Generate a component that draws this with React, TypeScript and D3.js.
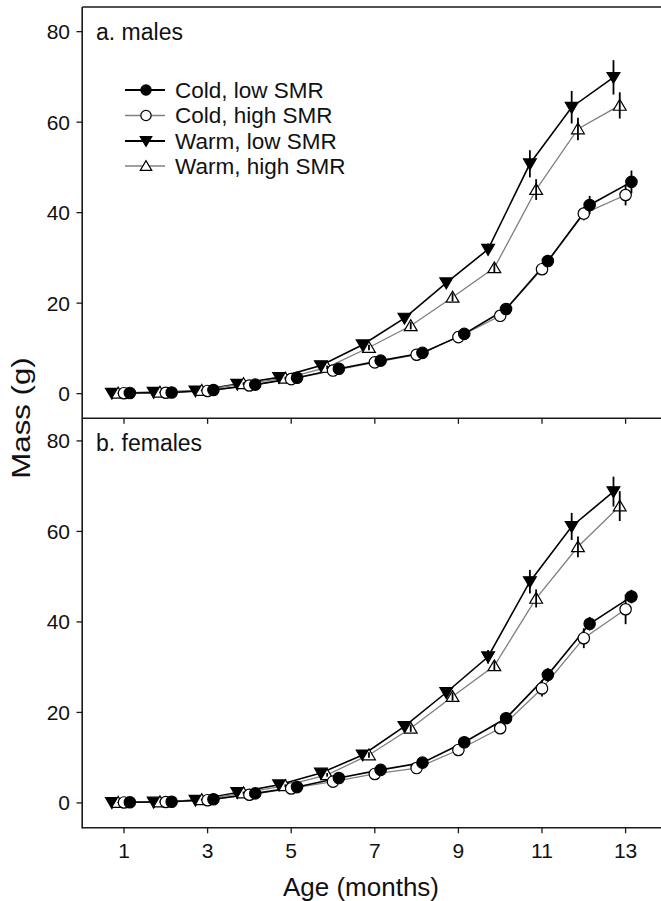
import React from "react";
import * as d3 from "d3";

const months = [1, 2, 3, 4, 5, 6, 7, 8, 9, 10, 11, 12, 13];
const xTicks = [1, 3, 5, 7, 9, 11, 13];
const yTicks = [0, 20, 40, 60, 80];

const seriesNames = ["Cold, low SMR", "Cold, high SMR", "Warm, low SMR", "Warm, high SMR"];

// males
const maleColdLow = [0.15, 0.25, 0.8, 2.0, 3.5, 5.5, 7.3, 9.0, 13.2, 18.7, 29.3, 41.7, 46.8];
const maleColdHigh = [0.1, 0.2, 0.6, 1.8, 3.2, 5.1, 6.9, 8.6, 12.5, 17.2, 27.5, 39.8, 43.9];
const maleWarmLow = [0.1, 0.3, 0.6, 2.1, 3.6, 6.2, 10.8, 16.7, 24.5, 31.9, 50.8, 63.3, 69.9];
const maleWarmHigh = [0.1, 0.3, 0.7, 2.2, 3.4, 5.8, 10.2, 15.0, 21.3, 27.8, 45.1, 58.5, 63.7];
const maleColdLowErr = [0.1, 0.1, 0.1, 0.2, 0.3, 0.3, 0.4, 0.5, 0.6, 0.8, 1.0, 2.0, 2.5];
const maleColdHighErr = [0.1, 0.1, 0.1, 0.2, 0.3, 0.3, 0.4, 0.5, 0.6, 0.8, 1.2, 1.5, 2.3];
const maleWarmLowErr = [0.1, 0.1, 0.2, 0.3, 0.4, 0.5, 0.7, 0.9, 1.0, 1.3, 3.0, 3.6, 3.8];
const maleWarmHighErr = [0.1, 0.1, 0.2, 0.3, 0.3, 0.4, 0.6, 0.8, 0.9, 1.0, 2.3, 2.5, 2.9];

// females
const femaleColdLow = [0.15, 0.25, 0.8, 2.1, 3.5, 5.5, 7.3, 8.9, 13.4, 18.7, 28.3, 39.6, 45.6];
const femaleColdHigh = [0.1, 0.2, 0.6, 1.8, 3.2, 4.7, 6.4, 7.7, 11.7, 16.5, 25.3, 36.4, 42.8];
const femaleWarmLow = [0.1, 0.2, 0.6, 2.3, 4.0, 6.6, 10.6, 16.9, 24.4, 32.3, 48.9, 61.1, 68.8];
const femaleWarmHigh = [0.1, 0.2, 0.7, 2.2, 3.8, 6.2, 10.6, 16.5, 23.5, 30.3, 45.2, 56.6, 65.6];
const femaleColdLowErr = [0.1, 0.1, 0.1, 0.2, 0.3, 0.3, 0.4, 0.5, 0.6, 0.8, 1.5, 1.5, 1.5];
const femaleColdHighErr = [0.1, 0.1, 0.1, 0.2, 0.3, 0.3, 0.4, 0.5, 0.6, 1.0, 1.8, 2.2, 3.3];
const femaleWarmLowErr = [0.1, 0.1, 0.2, 0.3, 0.4, 0.5, 0.7, 0.9, 1.0, 1.5, 2.6, 3.0, 3.3];
const femaleWarmHighErr = [0.1, 0.1, 0.2, 0.3, 0.3, 0.4, 0.6, 0.8, 0.9, 1.0, 2.0, 2.3, 3.3];

// age offsets (months) used to separate groups
const ageOffsets = [0.14, 0, -0.29, -0.14];

const FONT = "'Liberation Sans', Arial, Helvetica, sans-serif";
const GRAY = "#7f7f7f";
const AX = "#1a1a1a";

type Style = { line: string; lw: number; marker: "circle" | "down" | "up"; fill: string; barsOnTop: boolean };
const styles: Style[] = [
  { line: "#000", lw: 1.6, marker: "circle", fill: "#000", barsOnTop: false },
  { line: GRAY, lw: 1.3, marker: "circle", fill: "#fff", barsOnTop: false },
  { line: "#000", lw: 1.6, marker: "down", fill: "#000", barsOnTop: true },
  { line: GRAY, lw: 1.3, marker: "up", fill: "#fff", barsOnTop: true },
];

function Marker({ kind, x, y, fill, s = 1 }: { kind: string; x: number; y: number; fill: string; s?: number }) {
  if (kind === "circle") {
    return <circle cx={x} cy={y} r={5.7 * s} fill={fill} stroke="#000" strokeWidth={1.2} />;
  }
  const w = 6.4 * s;
  const h = 5.7 * s;
  const d =
    kind === "down"
      ? `M${x - w},${y - h * 0.85}L${x + w},${y - h * 0.85}L${x},${y + h * 1.05}Z`
      : `M${x - w},${y + h * 0.85}L${x + w},${y + h * 0.85}L${x},${y - h * 1.05}Z`;
  return <path d={d} fill={fill} stroke="#000" strokeWidth={1.2} strokeLinejoin="miter" />;
}

const x = d3.scaleLinear().domain([0, 1]).range([82.2, 124.0]);

function Panel({
  values,
  errs,
  top,
  bottom,
  yDomain,
  label,
  showXLabels,
}: {
  values: number[][];
  errs: number[][];
  top: number;
  bottom: number;
  yDomain: [number, number];
  label: string;
  showXLabels: boolean;
}) {
  const y = d3.scaleLinear().domain(yDomain).range([bottom, top]);
  const order = [2, 3, 1, 0];
  return (
    <g>
      {order.map((si) => {
        const line = d3
          .line<number>()
          .x((_, i) => x(months[i] + ageOffsets[si]))
          .y((v) => y(v));
        return (
          <path key={"l" + si} d={line(values[si]) || ""} fill="none" stroke={styles[si].line} strokeWidth={styles[si].lw} />
        );
      })}
      {order.map((si) => {
        const bars = values[si].map((v, i) => (
          <line
            key={"e" + i}
            x1={x(months[i] + ageOffsets[si])}
            x2={x(months[i] + ageOffsets[si])}
            y1={y(v - errs[si][i])}
            y2={y(v + errs[si][i])}
            stroke="#000"
            strokeWidth={1.8}
          />
        ));
        const marks = values[si].map((v, i) => (
          <Marker key={i} kind={styles[si].marker} x={x(months[i] + ageOffsets[si])} y={y(v)} fill={styles[si].fill} />
        ));
        return (
          <g key={"m" + si}>
            {styles[si].barsOnTop ? marks : bars}
            {styles[si].barsOnTop ? bars : marks}
          </g>
        );
      })}
      {yTicks.map((t) => (
        <g key={"yt" + t}>
          <line x1={76.5} x2={82.2} y1={y(t)} y2={y(t)} stroke={AX} strokeWidth={1.3} />
          <text x={70} y={y(t)} textAnchor="end" dominantBaseline="central" fontSize={21} fontFamily={FONT} fill="#111">
            {t}
          </text>
        </g>
      ))}
      <line x1={82.2} x2={661} y1={bottom} y2={bottom} stroke={AX} strokeWidth={1.6} />
      {xTicks.map((t) => (
        <g key={"xt" + t}>
          <line x1={x(t)} x2={x(t)} y1={bottom} y2={bottom + 5.5} stroke={AX} strokeWidth={1.3} />
          {showXLabels && (
            <text x={x(t)} y={bottom + 23} textAnchor="middle" dominantBaseline="central" fontSize={21} fontFamily={FONT} fill="#111">
              {t}
            </text>
          )}
        </g>
      ))}
      <text x={96} y={top + 32.5} fontSize={23} fontFamily={FONT} fill="#111">
        {label}
      </text>
    </g>
  );
}

export default function App() {
  const legendRows = [90, 115.5, 141, 166];
  return (
    <svg width={661} height={901} style={{ position: "absolute", left: 0, top: 0, background: "#fff" }}>
      <rect width={661} height={901} fill="#fff" />
      <Panel
        values={[maleColdLow, maleColdHigh, maleWarmLow, maleWarmHigh]}
        errs={[maleColdLowErr, maleColdHighErr, maleWarmLowErr, maleWarmHighErr]}
        top={7}
        bottom={418.3}
        yDomain={[-5.45, 85.45]}
        label="a. males"
        showXLabels={false}
      />
      <Panel
        values={[femaleColdLow, femaleColdHigh, femaleWarmLow, femaleWarmHigh]}
        errs={[femaleColdLowErr, femaleColdHighErr, femaleWarmLowErr, femaleWarmHighErr]}
        top={418.3}
        bottom={827.8}
        yDomain={[-5.5, 85.0]}
        label="b. females"
        showXLabels={true}
      />
      <line x1={82.2} x2={661} y1={7} y2={7} stroke={AX} strokeWidth={1.6} />
      <line x1={82.2} x2={82.2} y1={7} y2={828.5} stroke={AX} strokeWidth={1.6} />
      {seriesNames.map((name, i) => (
        <g key={name}>
          <line x1={125} x2={165} y1={legendRows[i]} y2={legendRows[i]} stroke={styles[i].line} strokeWidth={styles[i].lw + 0.3} />
          <Marker kind={styles[i].marker} x={146} y={legendRows[i]} fill={styles[i].fill} s={0.9} />
          <text x={175} y={legendRows[i]} dominantBaseline="central" fontSize={22.5} fontFamily={FONT} fill="#111">
            {name}
          </text>
        </g>
      ))}
      <text x={361} y={887} textAnchor="middle" dominantBaseline="central" fontSize={26} fontFamily={FONT} fill="#111">
        Age (months)
      </text>
      <text
        transform="translate(21,418) rotate(-90) scale(1.2,1)"
        textAnchor="middle"
        dominantBaseline="central"
        fontSize={26}
        fontFamily={FONT}
        fill="#111"
      >
        Mass (g)
      </text>
    </svg>
  );
}
